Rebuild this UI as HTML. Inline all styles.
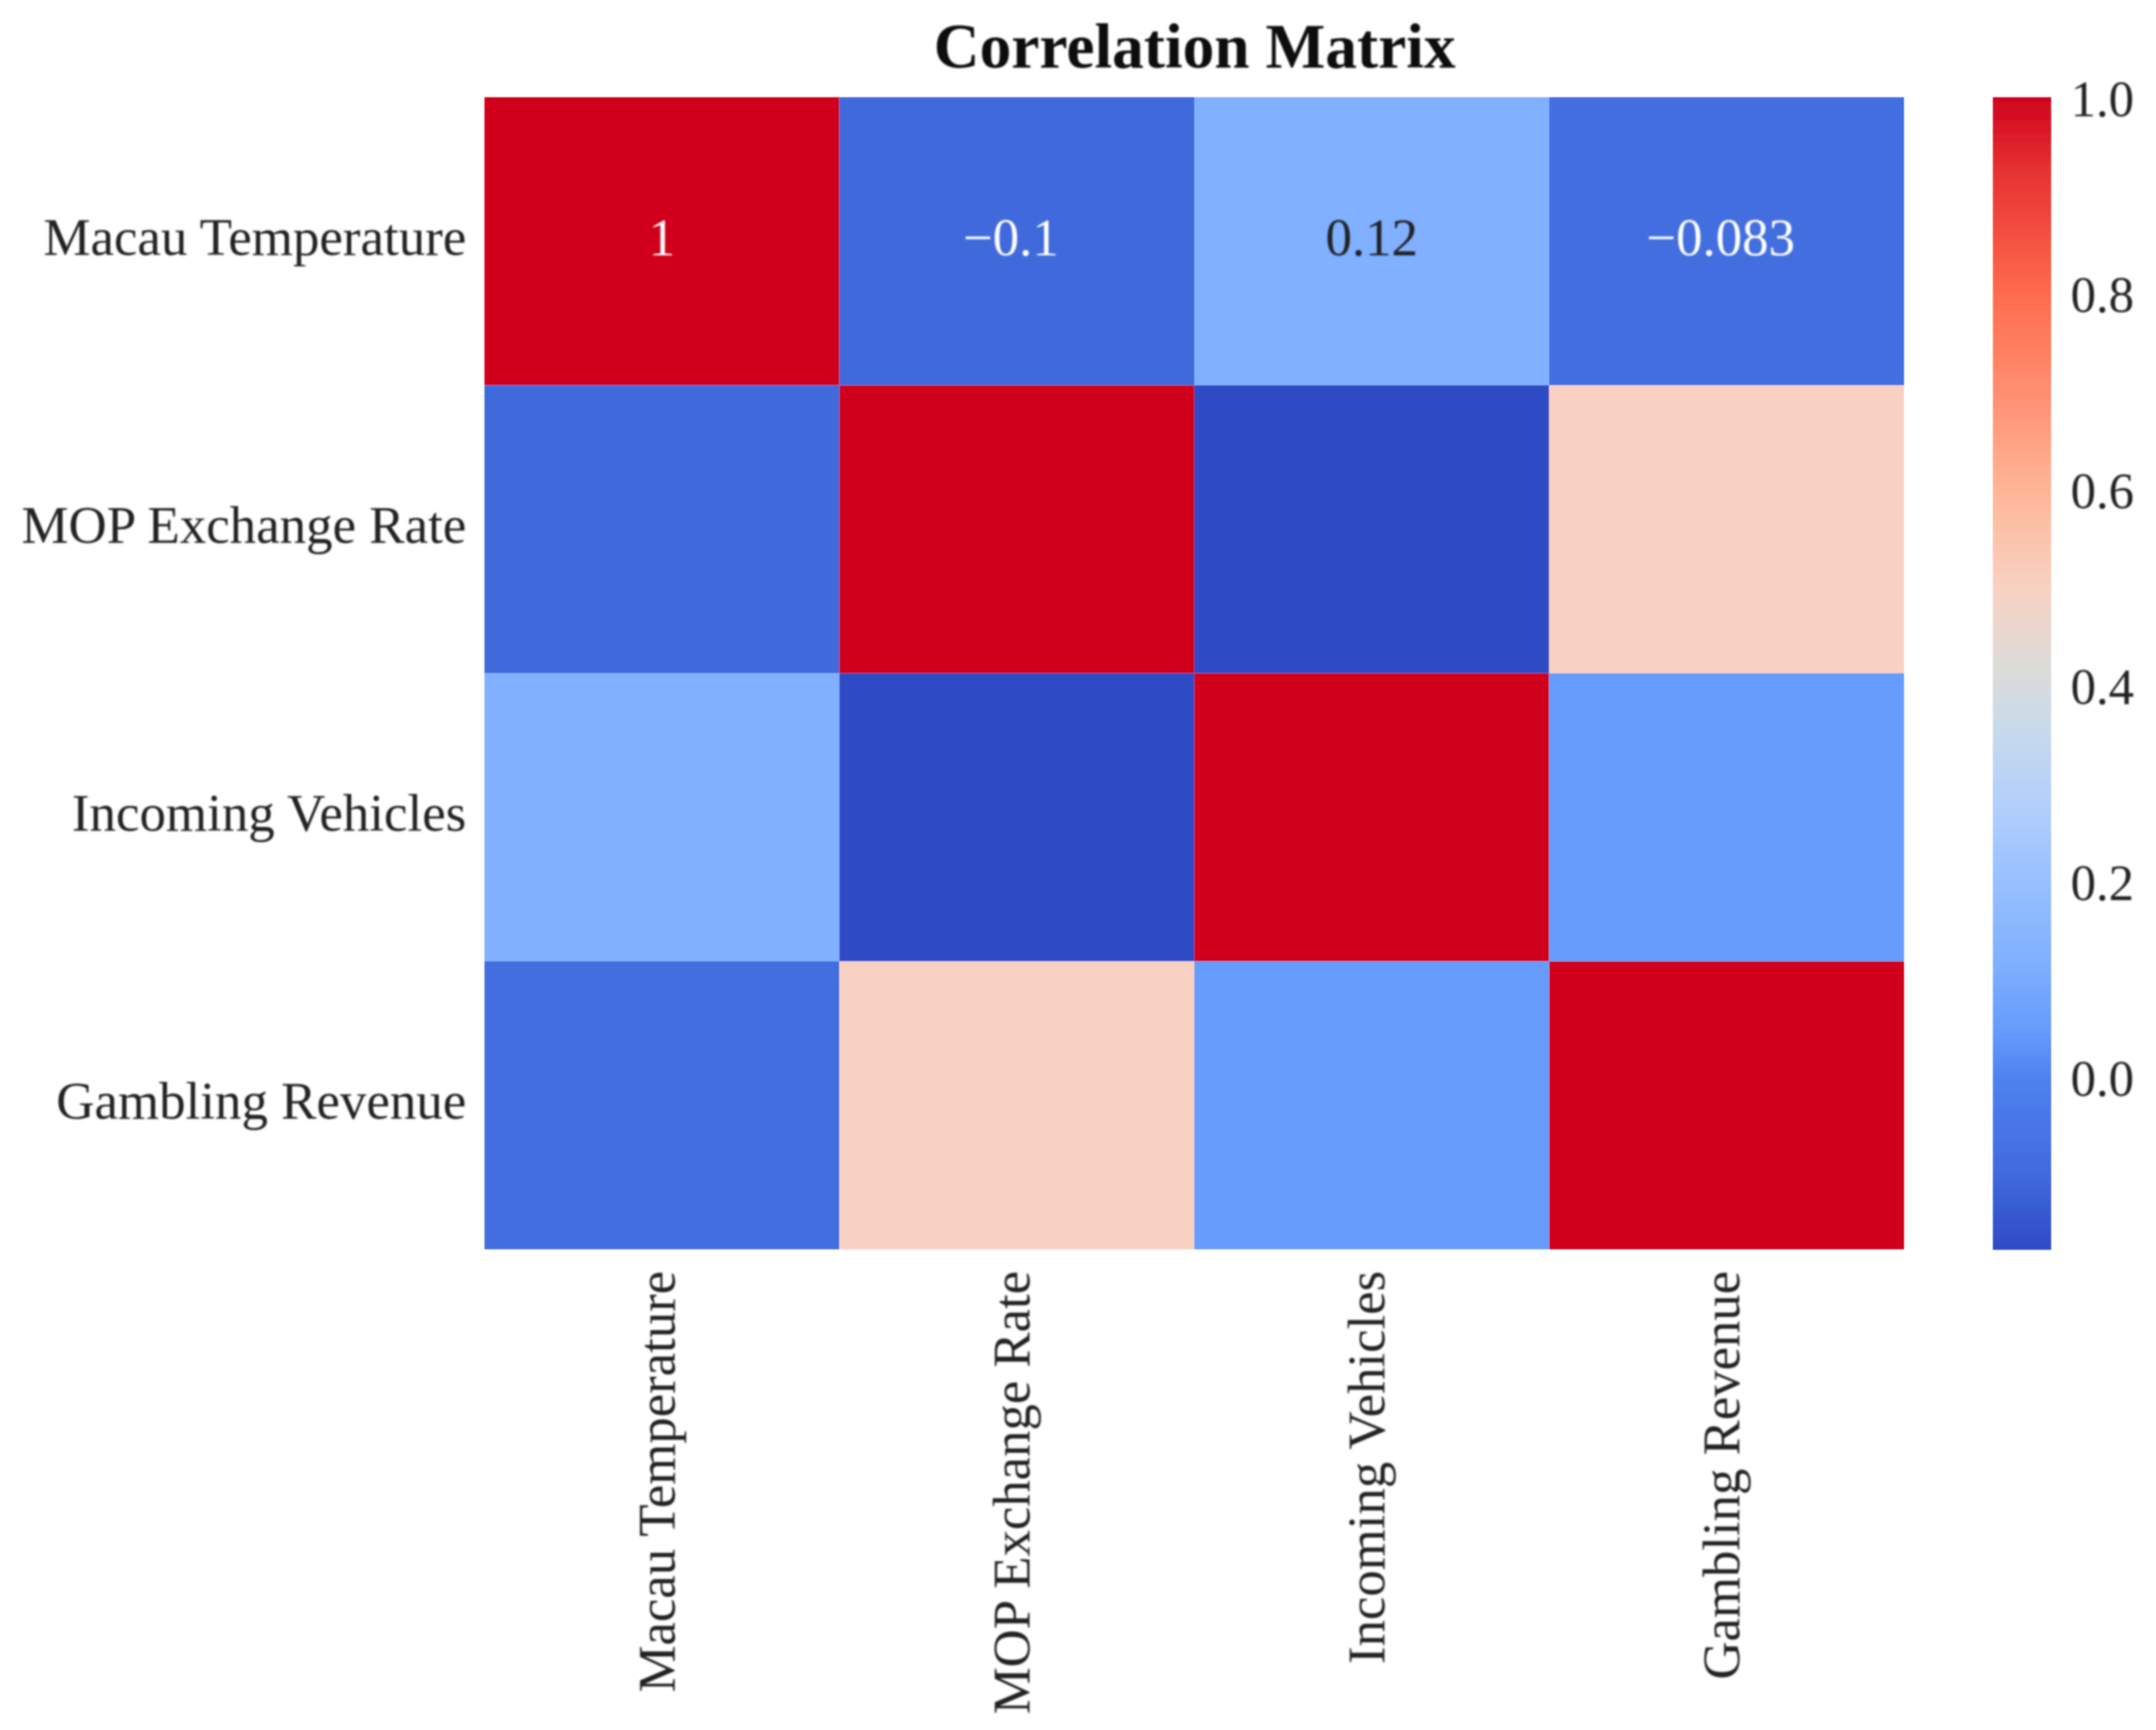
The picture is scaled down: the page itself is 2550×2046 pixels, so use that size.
<!DOCTYPE html>
<html lang="en">
<head>
<meta charset="utf-8">
<title>Correlation Matrix</title>
<style>
html,body{margin:0;padding:0;background:#fff;width:2550px;height:2046px;overflow:hidden}
svg{display:block;font-family:"Liberation Serif","Times New Roman",serif}
</style>
</head>
<body>
<svg id="chart" xmlns="http://www.w3.org/2000/svg" width="2550" height="2046" viewBox="0 0 2550 2046">
  <defs>
    <filter id="soft" x="0" y="0" width="2550" height="2046" filterUnits="userSpaceOnUse" primitiveUnits="userSpaceOnUse">
      <feGaussianBlur stdDeviation="0.9"/>
    </filter>
    <filter id="soft-text" x="0" y="0" width="2550" height="2046" filterUnits="userSpaceOnUse" primitiveUnits="userSpaceOnUse">
      <feGaussianBlur stdDeviation="1.1"/>
    </filter>
  </defs>
  <rect x="0" y="0" width="2550" height="2046" fill="#ffffff"/>
  <g id="root">
    <g id="cells" filter="url(#soft)"></g>
    <g id="colorbar" filter="url(#soft)"></g>
    <text filter="url(#soft-text)" x="1413" y="80" text-anchor="middle" font-size="75" font-weight="700" fill="#111111">Correlation Matrix</text>
    <g id="annotations" filter="url(#soft-text)"></g>
    <g id="y-labels" filter="url(#soft-text)"></g>
    <g id="x-labels" filter="url(#soft-text)"></g>
    <g id="colorbar-ticks" filter="url(#soft-text)"></g>
  </g>
</svg>
<script>
// Chart data
const categories = ["Macau Temperature", "MOP Exchange Rate", "Incoming Vehicles", "Gambling Revenue"];
const rowMacauTemperature = [1, -0.1, 0.12, -0.083];
const rowMopExchangeRate = [-0.1, 1, -0.176, 0.5];
const rowIncomingVehicles = [0.12, -0.176, 1, 0.05];
const rowGamblingRevenue = [-0.083, 0.5, 0.05, 1];
const annotatedRows = [0];
const colorbarTicks = [0, 0.2, 0.4, 0.6, 0.8, 1];
const colorStopValues = [-0.176, -0.1, -0.083, 0, 0.05, 0.12, 0.2, 0.28, 0.37, 0.42, 0.5, 0.6, 0.7, 0.8, 0.93, 1];
const colorStopHex = ["#2e4bc5", "#4069dc", "#436ee0", "#4f82ef", "#669dfc", "#80b0ff", "#97c0ff", "#b2d0fb", "#cddbe8", "#dddbd8", "#f8d1c2", "#ffb596", "#ff8f70", "#ff6b4e", "#e53030", "#d0021f"];

const matrix = [rowMacauTemperature, rowMopExchangeRate, rowIncomingVehicles, rowGamblingRevenue];
const SVG_NS = "http://www.w3.org/2000/svg";
const plot = { left: 573, right: 2252, top: 115, bottom: 1477.5 };
const bar = { left: 2357, right: 2426, top: 115, bottom: 1477.5 };

const flat = matrix.reduce(function (a, r) { return a.concat(r); }, []);
const vmin = Math.min.apply(null, flat);
const vmax = Math.max.apply(null, flat);

function xBand(i) { return plot.left + (plot.right - plot.left) * i / categories.length; }
function yBand(i) { return plot.top + (plot.bottom - plot.top) * i / categories.length; }
function barY(v) { return bar.bottom - (bar.bottom - bar.top) * (v - vmin) / (vmax - vmin); }

function hexToRgb(h) {
  return [parseInt(h.slice(1, 3), 16), parseInt(h.slice(3, 5), 16), parseInt(h.slice(5, 7), 16)];
}
function colorRgb(v) {
  // colour ramp is anchored to the value axis of the reference colour bar
  if (v <= colorStopValues[0]) return hexToRgb(colorStopHex[0]);
  for (let i = 1; i < colorStopValues.length; i++) {
    if (v <= colorStopValues[i]) {
      const t = (v - colorStopValues[i - 1]) / (colorStopValues[i] - colorStopValues[i - 1]);
      const a = hexToRgb(colorStopHex[i - 1]);
      const b = hexToRgb(colorStopHex[i]);
      return [a[0] + (b[0] - a[0]) * t, a[1] + (b[1] - a[1]) * t, a[2] + (b[2] - a[2]) * t];
    }
  }
  return hexToRgb(colorStopHex[colorStopHex.length - 1]);
}
function css(rgb) { return "rgb(" + rgb.map(Math.round).join(",") + ")"; }
function luminance(rgb) {
  const c = rgb.map(function (x) {
    const s = x / 255;
    return s <= 0.03928 ? s / 12.92 : Math.pow((s + 0.055) / 1.055, 2.4);
  });
  return 0.2126 * c[0] + 0.7152 * c[1] + 0.0722 * c[2];
}
function formatValue(v) {
  return String(parseFloat(v.toPrecision(2))).replace("-", "\u2212");
}

const cellsGroup = document.getElementById("cells");
const annotationsGroup = document.getElementById("annotations");
const yLabelsGroup = document.getElementById("y-labels");
const xLabelsGroup = document.getElementById("x-labels");
const barGroup = document.getElementById("colorbar");
const barTicksGroup = document.getElementById("colorbar-ticks");

// Heatmap cells and annotations
matrix.forEach(function (row, r) {
  row.forEach(function (value, c) {
    const rgb = colorRgb(value);
    const cell = document.createElementNS(SVG_NS, "rect");
    cell.setAttribute("x", xBand(c));
    cell.setAttribute("y", yBand(r));
    cell.setAttribute("width", xBand(c + 1) - xBand(c));
    cell.setAttribute("height", yBand(r + 1) - yBand(r));
    cell.setAttribute("fill", css(rgb));
    
    
    cellsGroup.appendChild(cell);

    if (annotatedRows.indexOf(r) !== -1) {
      const label = document.createElementNS(SVG_NS, "text");
      const nudge = value < 0 ? -7 : 0;
      label.setAttribute("x", (xBand(c) + xBand(c + 1)) / 2 + nudge);
      label.setAttribute("y", (yBand(r) + yBand(r + 1)) / 2 + 16.5);
      label.setAttribute("text-anchor", "middle");
      label.setAttribute("font-size", "62.5");
      label.setAttribute("fill", luminance(rgb) < 0.408 ? "#ffffff" : "#222222");
      label.textContent = formatValue(value);
      
      
      annotationsGroup.appendChild(label);
    }
  });
});

// Axis labels
categories.forEach(function (name, i) {
  const yLabel = document.createElementNS(SVG_NS, "text");
  yLabel.setAttribute("x", 551.5);
  yLabel.setAttribute("y", (yBand(i) + yBand(i + 1)) / 2 + 16);
  yLabel.setAttribute("text-anchor", "end");
  yLabel.setAttribute("font-size", "62.6");
  yLabel.setAttribute("fill", "#222222");
  yLabel.textContent = name;
  
  
  yLabelsGroup.appendChild(yLabel);

  const baseX = (xBand(i) + xBand(i + 1)) / 2 + 15;
  const xLabel = document.createElementNS(SVG_NS, "text");
  xLabel.setAttribute("x", baseX);
  xLabel.setAttribute("y", 1503);
  xLabel.setAttribute("text-anchor", "end");
  xLabel.setAttribute("font-size", "62.4");
  xLabel.setAttribute("fill", "#222222");
  xLabel.setAttribute("transform", "rotate(-90 " + baseX + " 1503)");
  xLabel.textContent = name;
  
  
  xLabelsGroup.appendChild(xLabel);
});

// Colour bar, drawn as 256 steps across the value range
const barSteps = 256;
for (let s = 0; s < barSteps; s++) {
  const v0 = vmin + (vmax - vmin) * s / barSteps;
  const v1 = vmin + (vmax - vmin) * (s + 1) / barSteps;
  const step = document.createElementNS(SVG_NS, "rect");
  step.setAttribute("x", bar.left);
  step.setAttribute("y", barY(v1));
  step.setAttribute("width", bar.right - bar.left);
  step.setAttribute("height", barY(v0) - barY(v1) + 0.6);
  step.setAttribute("fill", css(colorRgb((v0 + v1) / 2)));
  
  
  barGroup.appendChild(step);
}

colorbarTicks.forEach(function (tick) {
  const t = document.createElementNS(SVG_NS, "text");
  t.setAttribute("x", 2449);
  t.setAttribute("y", barY(tick) + 22.5);
  t.setAttribute("font-size", "60");
  t.setAttribute("fill", "#222222");
  t.textContent = tick.toFixed(1);
  
  
  barTicksGroup.appendChild(t);
});
</script>
</body>
</html>
